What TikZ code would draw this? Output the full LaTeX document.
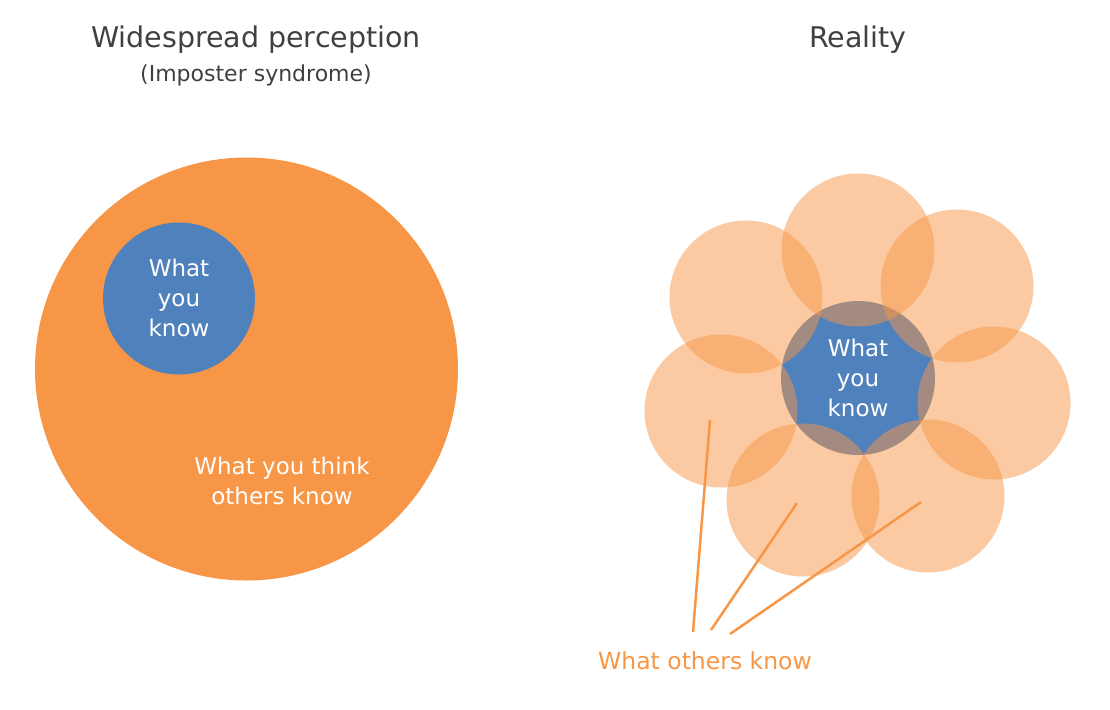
\documentclass[tikz,border=0pt]{standalone}
\usepackage{fontspec}
\setmainfont{DejaVu Sans}
\definecolor{myorange}{HTML}{F79646}
\definecolor{myblue}{HTML}{4F81BD}
\definecolor{titlegray}{HTML}{404040}
\begin{document}
\begin{tikzpicture}[x=1pt,y=-1pt,
  title/.style={text=titlegray,font=\fontsize{28.5}{32}\selectfont},
  subtitle/.style={text=titlegray,font=\fontsize{22}{26}\selectfont},
  inlabel/.style={text=white,font=\fontsize{23}{30}\selectfont,align=center},
  petal/.style={circle,fill=myorange,fill opacity=0.5,minimum size=153pt,inner sep=0pt},
  pointer/.style={draw=myorange,line width=2.5pt},
]
\useasboundingbox (0,0) rectangle (1110,709);
% titles
\node[title] (t1) at (256,40) {Widespread perception};
\node[subtitle] (t2) at (256,75) {(Imposter syndrome)};
\node[title] (t3) at (858,40) {Reality};
% left diagram
\node[circle,fill=myorange,minimum size=423pt,inner sep=0pt] (big) at (246.5,369) {};
\node[circle,fill=myblue,minimum size=152pt,inner sep=0pt] (small) at (179,298.5) {};
\node[inlabel] (smalltxt) at (179,298) {What\\you\\know};
\node[inlabel] (think) at (282,481) {What you think\\others know};
% right diagram
\node[circle,fill=myblue,minimum size=154pt,inner sep=0pt] (core) at (858,378) {};
\node[petal] (p1) at (858,250) {};
\node[petal] (p2) at (957,286) {};
\node[petal] (p3) at (994,403) {};
\node[petal] (p4) at (928,496) {};
\node[petal] (p5) at (803,500) {};
\node[petal] (p6) at (721,411) {};
\node[petal] (p7) at (746,297) {};
\node[inlabel] (coretxt) at (858,378) {What\\you\\know};
% pointers
\coordinate (a1) at (710,420);
\coordinate (a2) at (797,503);
\coordinate (a3) at (921,502);
\node[text=myorange,font=\fontsize{23.5}{27}\selectfont] (others) at (705,661) {What others know};
\coordinate (b1) at (693,632);
\coordinate (b2) at (711,630);
\coordinate (b3) at (730,634);
\draw[pointer] (a1) -- (b1);
\draw[pointer] (a2) -- (b2);
\draw[pointer] (a3) -- (b3);
\end{tikzpicture}
\end{document}
